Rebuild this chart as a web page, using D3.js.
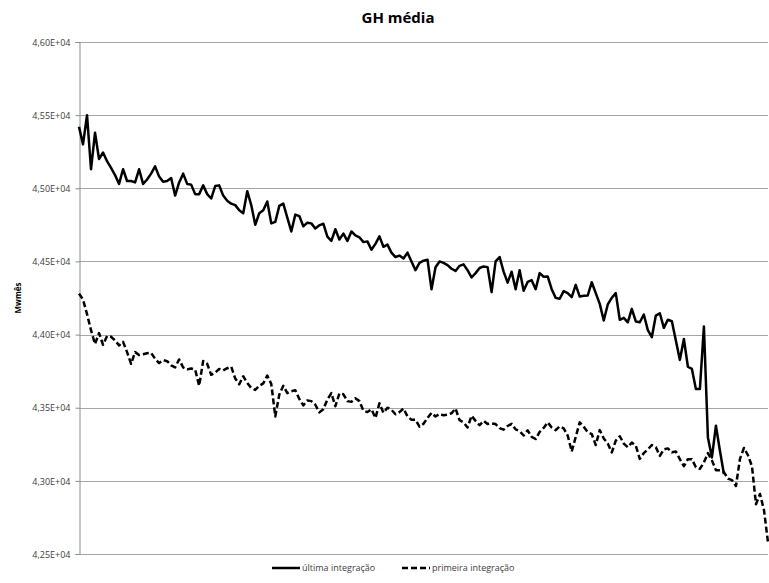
<!DOCTYPE html>
<html>
<head>
<meta charset="utf-8">
<script src="https://cdn.jsdelivr.net/npm/d3@7"></script>
<style>
  body { margin: 0; background: #fff; }
  text { font-family: "Open Sans", "Liberation Sans", sans-serif; }
</style>
</head>
<body>
<div id="chart"></div>
<script>
// y axis ticks (Mwmês)
var yTicks = [42500, 43000, 43500, 44000, 44500, 45000, 45500, 46000];
var yTickLabels = ["4,25E+04", "4,30E+04", "4,35E+04", "4,40E+04", "4,45E+04", "4,50E+04", "4,55E+04", "4,60E+04"];

var seriesNames = ["última integração", "primeira integração"];

// solid line
var ultima = [
  45420, 45300, 45500, 45130, 45380, 45200, 45245, 45185, 45140, 45090,
  45030, 45130, 45050, 45050, 45040, 45130, 45030, 45060, 45100, 45150,
  45080, 45045, 45050, 45070, 44950, 45040, 45100, 45030, 45025, 44960,
  44960, 45020, 44960, 44930, 45015, 45020, 44950, 44915, 44895, 44885,
  44850, 44830, 44980, 44885, 44750, 44830, 44850, 44910, 44760, 44770,
  44880, 44895, 44800, 44705, 44820, 44810, 44740, 44765, 44760, 44725,
  44747, 44758, 44670, 44640, 44720, 44650, 44690, 44640, 44705, 44678,
  44665, 44632, 44637, 44580, 44620, 44671, 44600, 44615, 44560, 44530,
  44540, 44520, 44560, 44500, 44440, 44490, 44505, 44512, 44310, 44460,
  44500, 44490, 44475, 44450, 44435, 44470, 44480, 44440, 44390, 44420,
  44455, 44466, 44461, 44290, 44500, 44530, 44430, 44355, 44430, 44310,
  44440, 44300, 44360, 44372, 44310, 44420, 44395, 44397, 44310, 44251,
  44245, 44297, 44283, 44256, 44340, 44260, 44265, 44267, 44358, 44283,
  44210, 44096, 44206, 44251, 44283, 44101, 44114, 44084, 44176, 44090,
  44084, 44137, 44030, 43982, 44130, 44146, 44046, 44101, 44091, 43959,
  43827, 43970, 43780, 43765, 43628, 43628, 44055, 43297, 43160, 43377,
  43206, 43046
];

// dashed line
var primeira = [
  44280, 44240, 44140, 44030, 43935, 44010, 43930, 43990, 43985, 43960,
  43925, 43950, 43880, 43800, 43880, 43860, 43865, 43872, 43875, 43834,
  43805, 43825, 43818, 43790, 43776, 43830, 43775, 43762, 43768, 43760,
  43650, 43820, 43800, 43725, 43740, 43765, 43755, 43770, 43780, 43700,
  43660, 43715, 43670, 43635, 43622, 43650, 43666, 43720, 43662, 43440,
  43590, 43650, 43600, 43612, 43620, 43560, 43516, 43550, 43545, 43520,
  43468, 43490, 43555, 43600, 43510, 43598, 43592, 43545, 43540, 43565,
  43545, 43480, 43470, 43490, 43430, 43530, 43465, 43500, 43486, 43455,
  43470, 43495, 43440, 43418, 43418, 43370, 43390, 43430, 43465, 43440,
  43457, 43448, 43452, 43462, 43495, 43415, 43400, 43365, 43445, 43410,
  43380, 43410, 43388, 43393, 43388, 43361, 43350, 43375, 43390, 43352,
  43340, 43310, 43345, 43301, 43286, 43335, 43362, 43400, 43365, 43347,
  43372, 43358, 43310, 43200, 43300, 43400, 43370, 43333, 43320, 43245,
  43347, 43290, 43255, 43194, 43275, 43305, 43255, 43230, 43262, 43240,
  43150, 43190, 43215, 43245, 43230, 43171, 43215, 43222, 43195, 43200,
  43148, 43100, 43148, 43148, 43093, 43082, 43125, 43190, 43140, 43073,
  43073, 43060, 43015, 43005, 42965, 43150, 43225, 43175, 43100, 42840,
  42910, 42800, 42580
];

var width = 769, height = 583;
var margin = {top: 42, right: 1, bottom: 29, left: 79};

var svg = d3.select("#chart")
            .append("svg")
            .attr("width", width)
            .attr("height", height);

var x = d3.scalePoint()
          .domain(d3.range(primeira.length))
          .range([margin.left, width - margin.right]);

var y = d3.scaleLinear()
          .domain([yTicks[0], yTicks[yTicks.length - 1]])
          .range([height - margin.bottom, margin.top]);

// gridlines
svg.append("g")
   .attr("class", "grid")
 .selectAll("line")
   .data(yTicks)
 .enter().append("line")
   .attr("x1", margin.left)
   .attr("x2", width - margin.right)
   .attr("y1", function(d) { return Math.round(y(d)) + 0.5; })
   .attr("y2", function(d) { return Math.round(y(d)) + 0.5; })
   .style("stroke", "#a6a6a6")
   .style("stroke-width", 1);

// y axis
var yAxis = d3.axisLeft(y)
              .tickValues(yTicks)
              .tickSize(4)
              .tickPadding(5)
              .tickFormat(function(d, i) { return yTickLabels[i]; });

var gy = svg.append("g")
            .attr("transform", "translate(" + (margin.left + 0.5) + ",0)")
            .call(yAxis);
gy.select(".domain").style("stroke", "#8c8c8c");
gy.selectAll(".tick line").style("stroke", "#8c8c8c");
gy.selectAll(".tick text")
  .style("font-size", "9px")
  .style("fill", "#404040")
  .attr("dy", "0.35em");

// lines
var line = d3.line()
             .x(function(d, i) { return x(i); })
             .y(function(d) { return y(d); });

svg.append("path")
   .datum(primeira)
   .attr("d", line)
   .style("fill", "none")
   .style("stroke", "#000")
   .style("stroke-width", 2.5)
   .style("stroke-dasharray", "6,3")
   .style("stroke-linejoin", "round");

svg.append("path")
   .datum(ultima)
   .attr("d", line)
   .style("fill", "none")
   .style("stroke", "#000")
   .style("stroke-width", 2.5)
   .style("stroke-linejoin", "round");

// title
svg.append("text")
   .attr("x", 398)
   .attr("y", 23)
   .attr("text-anchor", "middle")
   .style("font-size", "15px")
   .style("font-weight", "bold")
   .text("GH média");

// y label
svg.append("text")
   .attr("transform", "translate(21," + ((margin.top + height - margin.bottom) / 2) + ") rotate(-90)")
   .attr("text-anchor", "middle")
   .style("font-size", "8px")
   .style("font-weight", "bold")
   .text("Mwmês");

// legend
var legend = svg.append("g").attr("class", "legend");
var legendX = [272, 402];
var dashes = [null, "6,3"];
seriesNames.forEach(function(name, i) {
  legend.append("line")
        .attr("x1", legendX[i])
        .attr("x2", legendX[i] + 28)
        .attr("y1", 568)
        .attr("y2", 568)
        .style("stroke", "#000")
        .style("stroke-width", 2.5)
        .style("stroke-dasharray", dashes[i]);
  legend.append("text")
        .attr("x", legendX[i] + 30)
        .attr("y", 568)
        .attr("dy", "0.35em")
        .style("font-size", "9px")
        .style("fill", "#404040")
        .text(name);
});
</script>
</body>
</html>
